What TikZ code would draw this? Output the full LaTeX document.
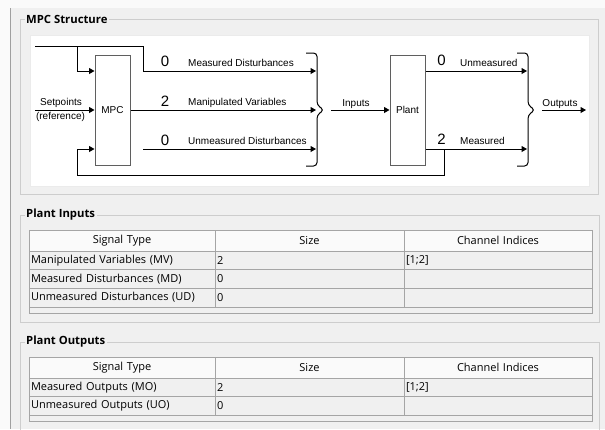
\documentclass[tikz,border=0pt]{standalone}
\usepackage{fontspec}
\setmainfont{Open Sans}
\newfontfamily\blockfont{Liberation Sans}
\usepackage{tikz}
\usetikzlibrary{positioning,arrows.meta}
\definecolor{panel}{RGB}{240,240,240}
\definecolor{outside}{RGB}{250,250,250}
\definecolor{frame}{RGB}{205,205,205}
\definecolor{edge}{RGB}{160,160,160}
\definecolor{grid}{RGB}{165,165,165}
\definecolor{headfill}{RGB}{250,250,250}
\definecolor{boxline}{RGB}{95,95,95}
\definecolor{ink}{RGB}{0,0,0}
\tikzset{
  group/.style={draw=frame,line width=0.8pt},
  grouplabel/.style={fill=panel,anchor=west,inner sep=1.5pt,font=\fontsize{11.3}{13}\selectfont\bfseries},
  canvas/.style={fill=white,draw=white!92!black},
  block/.style={draw=boxline,fill=white,line width=1pt,minimum width=35pt,minimum height=110pt,
    font=\blockfont\fontsize{10}{12}\selectfont},
  sig/.style={font=\blockfont\fontsize{10}{12}\selectfont,inner sep=0pt},
  num/.style={font=\blockfont\fontsize{15}{17}\selectfont,inner sep=0pt,anchor=base},
  wire/.style={draw=ink,line width=1pt},
  flow/.style={wire,-{Triangle[length=5.5pt,width=6pt]}},
  bracket/.style={draw=ink,line width=1pt,rounded corners=3.5pt},
  hcell/.style={draw=grid,line width=0.8pt,fill=headfill,anchor=north west,outer sep=0pt,
    inner xsep=2pt,inner ysep=0pt,minimum height=21pt,align=center,font=\fontsize{11}{13}\selectfont},
  cell/.style={draw=grid,line width=0.8pt,fill=panel,anchor=north west,outer sep=0pt,
    inner xsep=2pt,inner ysep=0pt,minimum height=18.67pt,align=left,font=\fontsize{11}{13}\selectfont},
  colA/.style={text width=182pt},
  colB/.style={text width=185pt},
  colC/.style={text width=184pt},
  strip/.style={cell,minimum height=6pt,text width=559pt},
}
\begin{document}
\begin{tikzpicture}[x=1pt,y=-1pt]
  \useasboundingbox[fill=outside] (0,0) rectangle (605,429);
  \fill[panel] (10,8) rectangle (605,429);
  \draw[edge] (10,8) -- (10,429);

  % MPC structure
  \draw[group] (20,19) rectangle (598,194);
  \node[grouplabel] (mpcgrp) at (24.5,19) {MPC Structure};
  \draw[canvas] (30,35) rectangle (589,186);

  \node[block] (mpc) at (112.5,110) {MPC};
  \node[block] (plant) at (407.5,110) {Plant};

  \coordinate (mdin) at (35,46);
  \coordinate (mdtap) at (77,46);
  \coordinate (mdturn) at (143,46);
  \coordinate (mdout) at (316,71);
  \coordinate (spin) at (35,110);
  \coordinate (mvout) at (316,110);
  \coordinate (udin) at (143,149);
  \coordinate (udout) at (316,149);
  \coordinate (inbr) at (324,110);
  \coordinate (umout) at (527,71);
  \coordinate (moout) at (527,149);
  \coordinate (motap) at (444,149);
  \coordinate (fbturn) at (77,175);
  \coordinate (outbr) at (535,110);
  \coordinate (outend) at (586,110);

  \draw[wire] (mdin) -- (mdturn);
  \draw[flow] (mdturn) |- (mdout);
  \draw[flow] (mdtap) |- (mpc.west |- mdout);
  \draw[flow] (spin) -- (mpc);
  \draw[flow] (mpc) -- (mvout);
  \draw[flow] (udin) -- (udout);
  \draw[flow] (motap) |- (fbturn) |- (mpc.west |- udin);
  \draw[flow,shorten <=7pt] (inbr) -- (plant);
  \draw[flow] (plant.east |- umout) -- (umout);
  \draw[flow] (plant.east |- moout) -- (moout);
  \draw[flow,shorten <=7pt] (outbr) -- (outend);

  \draw[bracket] (306,53) -| (317,105) -- (inbr) -- (317,115) |- (306,166);
  \draw[bracket] (517,53) -| (528,105) -- (outbr) -- (528,115) |- (517,166);

  \node[sig,anchor=base] (splbl) at (61,105.5) {Setpoints};
  \node[sig,anchor=base] (reflbl) at (60.5,119) {(reference)};
  \node[num] (mdnum) at (165,66.7) {0};
  \node[sig,anchor=base west] (mdlbl) at (188,66.5) {Measured Disturbances};
  \node[num] (mvnum) at (165,106) {2};
  \node[sig,anchor=base west] (mvlbl) at (188,105.5) {Manipulated Variables};
  \node[num] (udnum) at (165,145) {0};
  \node[sig,anchor=base west] (udlbl) at (188,144.5) {Unmeasured Disturbances};
  \node[sig,anchor=base] (inlbl) at (356,106) {Inputs};
  \node[num] (umnum) at (441.5,65.5) {0};
  \node[sig,anchor=base west] (umlbl) at (460,66.5) {Unmeasured};
  \node[num] (monum) at (441.5,144) {2};
  \node[sig,anchor=base west] (molbl) at (460,144) {Measured};
  \node[sig,anchor=base] (outlbl) at (560,106) {Outputs};

  % Plant inputs table
  \draw[group] (20,215) rectangle (599,322);
  \node[grouplabel] (ingrp) at (24.5,215) {Plant Inputs};
  \node[hcell,colA] (inha) at (29,230) {Signal Type};
  \node[hcell,colB,right=0pt of inha] (inhb) {Size};
  \node[hcell,colC,right=0pt of inhb] (inhc) {Channel Indices};
  \node[cell,colA,below=0pt of inha] (in1a) {Manipulated Variables (MV)};
  \node[cell,colB,right=0pt of in1a] (in1b) {2};
  \node[cell,colC,right=0pt of in1b] (in1c) {[1;2]};
  \node[cell,colA,below=0pt of in1a] (in2a) {Measured Disturbances (MD)};
  \node[cell,colB,right=0pt of in2a] (in2b) {0};
  \node[cell,colC,right=0pt of in2b] (in2c) {};
  \node[cell,colA,below=0pt of in2a] (in3a) {Unmeasured Disturbances (UD)};
  \node[cell,colB,right=0pt of in3a] (in3b) {0};
  \node[cell,colC,right=0pt of in3b] (in3c) {};
  \node[strip] (instrip) at (in3a.south west) {};

  % Plant outputs table
  \draw[group] (20,342) rectangle (599,445);
  \node[grouplabel] (outgrp) at (24.5,342) {Plant Outputs};
  \node[hcell,colA] (outha) at (29,357) {Signal Type};
  \node[hcell,colB,right=0pt of outha] (outhb) {Size};
  \node[hcell,colC,right=0pt of outhb] (outhc) {Channel Indices};
  \node[cell,colA,below=0pt of outha] (out1a) {Measured Outputs (MO)};
  \node[cell,colB,right=0pt of out1a] (out1b) {2};
  \node[cell,colC,right=0pt of out1b] (out1c) {[1;2]};
  \node[cell,colA,below=0pt of out1a] (out2a) {Unmeasured Outputs (UO)};
  \node[cell,colB,right=0pt of out2a] (out2b) {0};
  \node[cell,colC,right=0pt of out2b] (out2c) {};
  \node[strip] (outstrip) at (out2a.south west) {};
\end{tikzpicture}
\end{document}
